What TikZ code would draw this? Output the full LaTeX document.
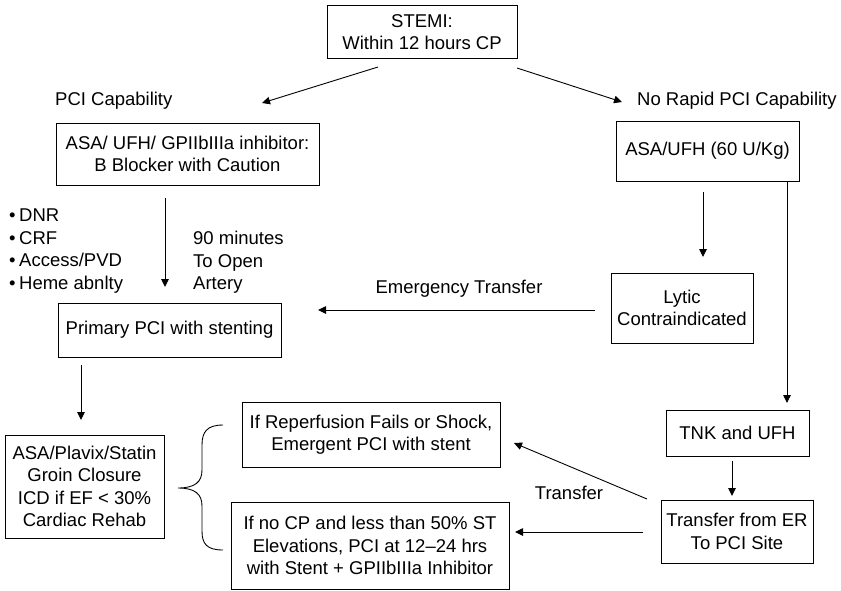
\documentclass[tikz,border=0pt]{standalone}
\usepackage{fontspec}
\setmainfont{Liberation Sans}
\usetikzlibrary{arrows.meta}
\begin{document}
\begin{tikzpicture}[x=1pt,y=-1pt,
  box/.style={draw,line width=0.9pt,align=center,inner sep=0pt,font=\fontsize{18.5}{22.5}\selectfont},
  lbl/.style={inner sep=0pt,align=left,font=\fontsize{18.5}{22.5}\selectfont},
  arr/.style={line width=0.9pt,-{Triangle[length=8pt,width=7.5pt]}},
  ln/.style={line width=0.9pt}]
\useasboundingbox (0,0) rectangle (841,590);
% boxes
\node[box,minimum width=190pt,minimum height=53pt] (stemi) at (422,32) {STEMI:\\Within 12 hours CP};
\node[box,minimum width=263pt,minimum height=62pt] (asa1) at (187.5,154) {ASA/ UFH/ GPIIbIIIa inhibitor:\\B Blocker with Caution};
\node[box,minimum width=183pt,minimum height=60pt] (asa2) at (707.5,151) {ASA/UFH (60 U/Kg)};
\node[box,minimum width=142pt,minimum height=70pt] (lytic) at (682,308) {Lytic\\Contraindicated};
\node[box,minimum width=223pt,minimum height=54pt] (ppci) at (169.5,330) {Primary PCI with stenting};
\node[box,minimum width=159pt,minimum height=103pt] (plavix) at (84.5,486.5) {ASA/Plavix/Statin\\Groin Closure\\ICD if EF < 30\%\\Cardiac Rehab};
\node[box,minimum width=258pt,minimum height=65pt] (reperf) at (371,434.5) {If Reperfusion Fails or Shock,\\Emergent PCI with stent};
\node[box,minimum width=278pt,minimum height=87pt] (nocp) at (370,545.5) {If no CP and less than 50\% ST\\Elevations, PCI at 12--24 hrs\\with Stent + GPIIbIIIa Inhibitor};
\node[box,minimum width=143pt,minimum height=46pt] (tnk) at (737.5,433) {TNK and UFH};
\node[box,minimum width=152pt,minimum height=63pt] (trer) at (737,531.5) {Transfer from ER\\To PCI Site};
% labels
\node[lbl,anchor=west] (pcicap) at (55,101) {PCI Capability};
\node[lbl,anchor=west] (norapid) at (637,101) {No Rapid PCI Capability};
\node[lbl,anchor=north west] (bullets) at (9,209) {•\hspace{3.5pt}DNR\\•\hspace{3.5pt}CRF\\•\hspace{3.5pt}Access/PVD\\•\hspace{3.5pt}Heme abnlty};
\node[lbl,anchor=north west] (ninety) at (193,231) {90 minutes\\To Open\\Artery};
\node[lbl] (emerg) at (459,289) {Emergency Transfer};
\node[lbl] (transf) at (569,493) {Transfer};
% coordinates
\coordinate (s1) at (378,67);  \coordinate (e1) at (262,103);
\coordinate (s2) at (517,68);  \coordinate (e2) at (622,102);
\coordinate (s3) at (165,198); \coordinate (e3) at (165,287);
\coordinate (s4) at (703,192); \coordinate (e4) at (703,257);
\coordinate (x787) at (787,0); \coordinate (e5) at (787,403);
\coordinate (s6) at (595,310); \coordinate (e6) at (318,310);
\coordinate (s7) at (81,365);  \coordinate (e7) at (81,420);
\coordinate (s8) at (732,461); \coordinate (e8) at (732,496);
\coordinate (s9) at (643,532); \coordinate (e9) at (515,532);
\coordinate (s10) at (647,499); \coordinate (e10) at (514,443);
% connectors
\draw[arr] (s1) -- (e1);
\draw[arr] (s2) -- (e2);
\draw[arr] (s3) -- (e3);
\draw[arr] (s4) -- (e4);
\draw[arr] (asa2.south -| x787) -- (e5);
\draw[arr] (s6) -- (e6);
\draw[arr] (s7) -- (e7);
\draw[arr] (s8) -- (e8);
\draw[arr] (s9) -- (e9);
\draw[arr] (s10) -- (e10);
% brace
\draw[ln] (223,425) .. controls (207,425) and (202,432) .. (202,445) -- (202,470)
  .. controls (202,482) and (195,488) .. (178,488)
  .. controls (195,488) and (202,494) .. (202,506) -- (202,531)
  .. controls (202,544) and (207,550) .. (223,550);
\end{tikzpicture}
\end{document}
